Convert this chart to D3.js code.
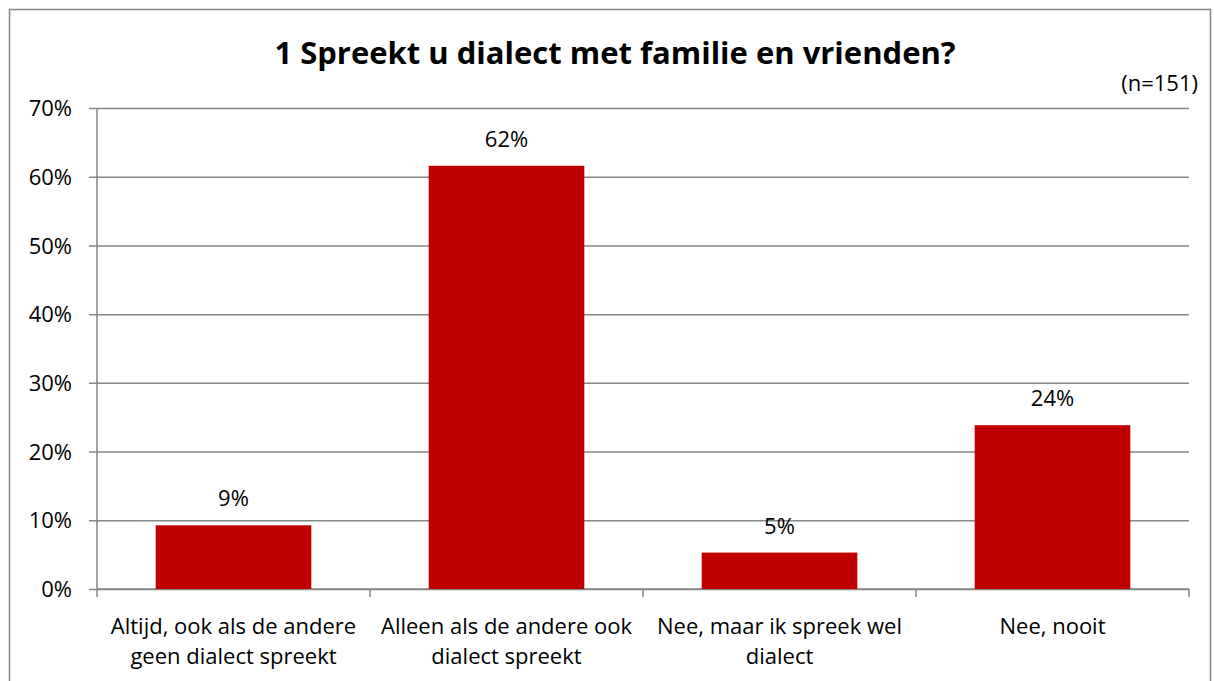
<!DOCTYPE html>
<html>
<head>
<meta charset="utf-8">
<script src="https://cdn.jsdelivr.net/npm/d3@7"></script>
<style>
  html, body { margin: 0; padding: 0; background: #fff; overflow: hidden; }
  svg { display: block; }
  svg text { font-family: "Open Sans", Lato, sans-serif; fill: #000; }
</style>
</head>
<body>
<div id="chart"></div>
<script>
// Chart data
const categories = [
  'Altijd, ook als de andere geen dialect spreekt',
  'Alleen als de andere ook dialect spreekt',
  'Nee, maar ik spreek wel dialect',
  'Nee, nooit'
];
const values = [0.0927, 0.6159, 0.0530, 0.2384];
const valueLabels = ['9%', '62%', '5%', '24%'];
const yTicks = [0, 0.1, 0.2, 0.3, 0.4, 0.5, 0.6, 0.7];
const title = '1 Spreekt u dialect met familie en vrienden?';
const note = '(n=151)';

const width = 1214, height = 681;
const margin = {top: 108, right: 25, bottom: 92, left: 97};
const innerWidth = width - margin.left - margin.right;
const innerHeight = height - margin.top - margin.bottom;
const fontSize = 22;

const svg = d3.select('#chart').append('svg')
  .attr('width', width)
  .attr('height', height);

// outer chart frame (bottom edge falls outside the picture)
svg.append('path')
  .attr('d', `M9.5,${height} V9.5 H1210.5 V${height}`)
  .attr('fill', 'none')
  .attr('stroke', '#868686')
  .attr('stroke-width', 1.5);

svg.append('text')
  .attr('x', 615).attr('y', 64)
  .attr('text-anchor', 'middle')
  .attr('font-size', 31)
  .attr('font-weight', 'bold')
  .text(title);

svg.append('text')
  .attr('x', 1198).attr('y', 91)
  .attr('text-anchor', 'end')
  .attr('font-size', fontSize)
  .text(note);

const g = svg.append('g')
  .attr('transform', `translate(${margin.left},${margin.top})`);

const x = d3.scaleBand()
  .domain(categories)
  .range([0, innerWidth])
  .paddingInner(0.43)
  .paddingOuter(0.215);

const y = d3.scaleLinear()
  .domain([0, 0.7])
  .range([innerHeight, 0]);

// gridlines + y axis labels
g.append('g')
  .call(d3.axisLeft(y)
    .tickValues(yTicks)
    .tickSize(-innerWidth)
    .tickPadding(25)
    .tickFormat(d3.format('.0%')))
  .call(a => a.select('.domain').remove())
  .call(a => a.selectAll('.tick line')
    .attr('x1', -8)
    .attr('stroke', '#868686')
    .attr('stroke-width', 1.5))
  .call(a => a.selectAll('.tick text')
    .attr('font-size', fontSize)
    .attr('font-family', null)
    .attr('dy', '0.35em'));

// y axis line
g.append('line')
  .attr('x1', 0).attr('x2', 0)
  .attr('y1', 0).attr('y2', innerHeight)
  .attr('stroke', '#868686')
  .attr('stroke-width', 1.5);

// x axis with category boundary ticks
const step = x.step();
const boundaries = d3.range(categories.length + 1).map(i => i * innerWidth / categories.length);
const xAxis = g.append('g').attr('transform', `translate(0,${innerHeight})`);
xAxis.append('line')
  .attr('x1', 0).attr('x2', innerWidth)
  .attr('stroke', '#868686').attr('stroke-width', 1.5);
xAxis.selectAll('.btick')
  .data(boundaries)
  .join('line')
  .attr('class', 'btick')
  .attr('x1', d => d).attr('x2', d => d)
  .attr('y1', 0).attr('y2', 8)
  .attr('stroke', '#868686').attr('stroke-width', 1.5);

// category labels, wrapped
const labels = xAxis.selectAll('.cat')
  .data(categories)
  .join('text')
  .attr('class', 'cat')
  .attr('text-anchor', 'middle')
  .attr('font-size', fontSize)
  .attr('x', d => x(d) + x.bandwidth() / 2)
  .attr('y', 45);

labels.each(function(d) {
  const text = d3.select(this);
  const cx = x(d) + x.bandwidth() / 2;
  const words = d.split(' ');
  let line = [];
  let tspan = text.append('tspan').attr('x', cx).attr('dy', 0);
  words.forEach(w => {
    line.push(w);
    tspan.text(line.join(' '));
    if (tspan.node().getComputedTextLength() > step - 8 && line.length > 1) {
      line.pop();
      tspan.text(line.join(' '));
      line = [w];
      tspan = text.append('tspan').attr('x', cx).attr('dy', 30).text(w);
    }
  });
});

// bars
g.selectAll('.bar')
  .data(values)
  .join('rect')
  .attr('class', 'bar')
  .attr('x', (d, i) => x(categories[i]))
  .attr('y', d => y(d))
  .attr('width', x.bandwidth())
  .attr('height', d => innerHeight - y(d))
  .attr('fill', '#c00000');

// value labels
g.selectAll('.vlab')
  .data(values)
  .join('text')
  .attr('class', 'vlab')
  .attr('text-anchor', 'middle')
  .attr('font-size', fontSize)
  .attr('x', (d, i) => x(categories[i]) + x.bandwidth() / 2)
  .attr('y', d => y(d) - 19)
  .text((d, i) => valueLabels[i]);
</script>
</body>
</html>
